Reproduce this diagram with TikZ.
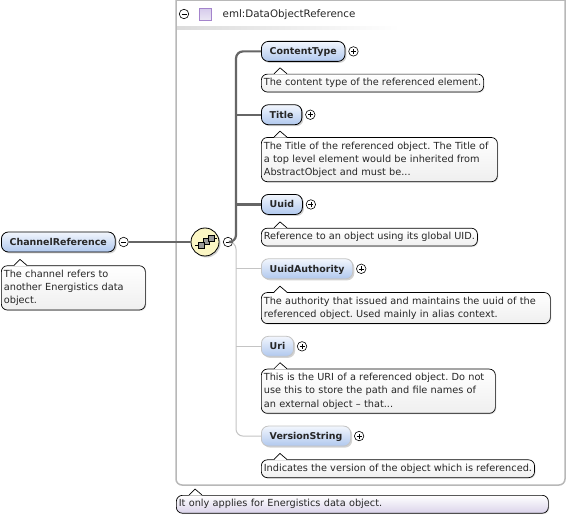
\documentclass[tikz,border=0pt]{standalone}
\usepackage{fontspec}
\setmainfont{DejaVu Sans}
\frenchspacing
\usetikzlibrary{arrows.meta,positioning,calc,shadows}
\definecolor{elemtop}{HTML}{F2F6FD}
\definecolor{elembot}{HTML}{B0C8EE}
\definecolor{notebot}{HTML}{EFEFEF}
\definecolor{lavbot}{HTML}{DAD3EA}
\definecolor{composfill}{HTML}{FBF6C4}
\definecolor{framegray}{HTML}{B8B8B8}
\definecolor{busgray}{HTML}{666666}
\definecolor{optgray}{HTML}{C4C4C4}
\definecolor{iconedge}{HTML}{A484CC}
\definecolor{icontop}{HTML}{D6CBEC}
\definecolor{iconbot}{HTML}{ECE8F4}
\begin{document}
\begin{tikzpicture}[
    x=1pt, y=-1pt,
    font=\fontsize{9.75}{13.2}\selectfont,
    node distance=12pt,
    elem/.style={draw=black, line width=0.8pt, rounded corners=7pt, top color=elemtop, bottom color=elembot, minimum height=20pt, text height=8pt, text depth=1pt, inner sep=0pt, inner xsep=8.3pt, font=\fontsize{9.45}{11}\selectfont\bfseries, text=black!85, drop shadow={shadow xshift=1.5pt, shadow yshift=-1.5pt, opacity=0.35}},
    optelem/.style={elem, draw=optgray},
    note/.style={draw=black, line width=0.7pt, rounded corners=6pt, top color=white, bottom color=notebot, align=left, anchor=north west, inner sep=0pt, inner xsep=2.5pt, inner ysep=4.2pt, text=black!85, drop shadow={shadow xshift=1pt, shadow yshift=-1pt, opacity=0.2}},
    toggle/.style={circle, draw=black, line width=0.6pt, fill=white, minimum size=9.5pt, inner sep=0pt},
    plusbox/.style={toggle, path picture={\draw[line width=0.6pt] ([xshift=-2.5pt]path picture bounding box.center) -- ([xshift=2.5pt]path picture bounding box.center) ([yshift=-2.5pt]path picture bounding box.center) -- ([yshift=2.5pt]path picture bounding box.center);}},
    minusbox/.style={toggle, path picture={\draw[line width=0.6pt] ([xshift=-2.5pt]path picture bounding box.center) -- ([xshift=2.5pt]path picture bounding box.center);}},
    bus/.style={draw=busgray, line width=2.2pt, rounded corners=7pt},
    optbus/.style={draw=optgray, line width=1pt, rounded corners=7pt},
    iconbox/.style={draw=black, line width=0.5pt, fill=black!40, minimum size=6pt, inner sep=0pt}
]
\useasboundingbox (0,0) rectangle (567,518);
\fill[white] (0,0) rectangle (567,518);

% outer frame and header
\draw[framegray, line width=1.5pt, rounded corners=6pt] (176,-6) -- (176,485) -- (565,485) -- (565,-6);
\draw[framegray, line width=1.5pt] (176,0.5) -- (565,0.5);
\shade[left color=black!14, right color=white] (177,27) rectangle (400,30);
\node[minusbox] (hdrtoggle) at (184,14) {};
\node[draw=iconedge, line width=0.9pt, top color=icontop, bottom color=iconbot, minimum size=12.5pt, inner sep=0pt] (hdricon) at (205.5,14.5) {};
\node[right=7pt of hdricon, text=black!85, font=\fontsize{10.3}{12}\selectfont] (hdrtext) {eml:DataObjectReference};

% left element
\node[elem, anchor=west] (chan) at (1,242) {ChannelReference};
\node[note, below=13pt of chan.south west, anchor=north west, text width=139pt] (channote) {The channel refers to\\another Energistics data\\object.};
\node[minusbox, right=3pt of chan] (chantoggle) {};

% compositor
\node[circle, draw=black, line width=0.8pt, fill=composfill, minimum size=28pt, drop shadow={shadow xshift=1.5pt, shadow yshift=-1.5pt, opacity=0.35}] (compos) at (205,242) {};
\node[minusbox] (compostoggle) at (228,242) {};
\node[iconbox] (iconb) at (206.5,241.5) {};
\node[iconbox] (icona) at (201.5,245) {};
\node[iconbox] (iconc) at (211,238.5) {};
\draw[line width=0.8pt] (195,245) -- (icona.west);
\draw[line width=0.8pt] (iconc.east) -- (217,238.5);

% child elements, chained downwards
\node[elem, anchor=north west] (ctype) at (261,41) {ContentType};
\node[note, below=12pt of ctype.south west, anchor=north west] (ctypenote) {The content type of the referenced element.};
\node[elem, below=12pt of ctypenote.south west, anchor=north west] (title) {Title};
\node[note, below=12pt of title.south west, anchor=north west, text width=231pt] (titlenote) {The Title of the referenced object. The Title of\\a top level element would be inherited from\\AbstractObject and must be...};
\node[elem, below=12pt of titlenote.south west, anchor=north west] (uuid) {Uuid};
\node[note, below=13pt of uuid.south west, anchor=north west] (uuidnote) {Reference to an object using its global UID.};
\node[optelem, below=12pt of uuidnote.south west, anchor=north west] (authority) {UuidAuthority};
\node[note, below=13pt of authority.south west, anchor=north west, text width=284pt] (authoritynote) {The authority that issued and maintains the uuid of the\\referenced object. Used mainly in alias context.};
\node[optelem, below=12pt of authoritynote.south west, anchor=north west] (uri) {Uri};
\node[note, below=12pt of uri.south west, anchor=north west, text width=229pt] (urinote) {This is the URI of a referenced object. Do not\\use this to store the path and file names of\\an external object – that...};
\node[optelem, below=12pt of urinote.south west, anchor=north west] (version) {VersionString};
\node[note, below=13pt of version.south west, anchor=north west] (versionnote) {Indicates the version of the object which is referenced.};

\foreach \a/\b in {ctype/ctypeplus, title/titleplus, uuid/uuidplus, authority/authorityplus, uri/uriplus, version/versionplus}
  \node[plusbox, right=3pt of \a] (\b) {};

% bottom note
\node[note, top color=white, bottom color=lavbot, text width=367pt] (lastnote) at (176,495) {It only applies for Energistics data object.};

% note peaks
\foreach \n in {channote, ctypenote, titlenote, uuidnote, authoritynote, urinote, versionnote, lastnote} {
  \fill[white] ($(\n.north west)+(13,0.6)$) -- ($(\n.north west)+(19,-6)$) -- ($(\n.north west)+(26,0.6)$) -- cycle;
  \draw[line width=0.7pt, line join=round] ($(\n.north west)+(13,0)$) -- ($(\n.north west)+(19,-6)$) -- ($(\n.north west)+(26,0)$);
}

% connectors
\draw[bus, rounded corners=0pt] (chantoggle.east) -- (compos.west);
\draw[optbus] (compostoggle.east) -- (236,242) |- (version.west);
\foreach \a in {authority, uri}
  \draw[optgray, line width=1pt] (236,0 |- \a.west) -- (\a.west);
\draw[bus] (compostoggle.east) -- (236,242) |- (ctype.west);
\foreach \a in {title, uuid}
  \draw[busgray, line width=2.2pt] (236,0 |- \a.west) -- (\a.west);
\end{tikzpicture}
\end{document}
